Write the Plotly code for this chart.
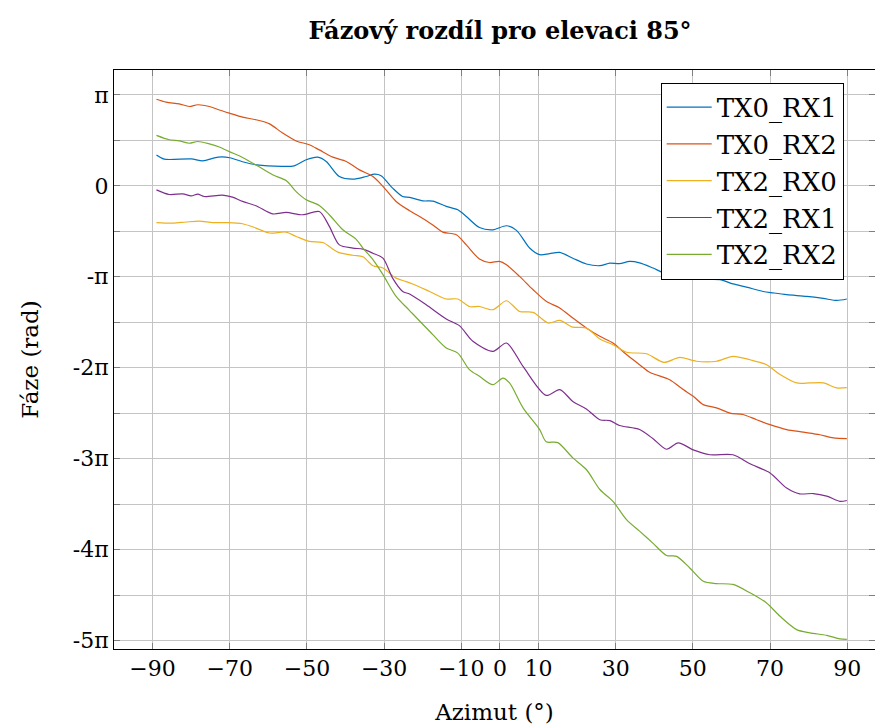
import math
import plotly.graph_objects as go

PI = math.pi

# ---- data (phase in rad, azimuth in degrees) ----
az_tx0_rx1 = [-89, -87, -80, -77, -73, -70, -66.7, -63, -56.5, -53.3, -50.2, -47.2, -45, -41.6, -38.1, -34.7,
              -32.5, -30.8, -27.8, -25.2, -23.4, -20, -17.4, -13.9, -10.9, -8.7, -5.3, -1.8, 1.7, 4.3, 7.7, 10.3,
              12.9, 15.5, 18.9, 22.4, 25.9, 28.5, 31, 33.6, 36.2, 39.7, 43.2, 45.8, 48.4, 51.8, 53.5, 57, 60.4,
              63.9, 68.2, 70.8, 74.3, 79.5, 83.8, 87.3, 89.9]
ph_tx0_rx1 = [1.06, 0.92, 0.93, 0.86, 0.99, 0.97, 0.83, 0.72, 0.67, 0.69, 0.90, 0.99, 0.84, 0.32, 0.23, 0.32,
              0.40, 0.35, -0.08, -0.37, -0.40, -0.52, -0.53, -0.71, -0.83, -1.06, -1.44, -1.52, -1.38, -1.54,
              -2.15, -2.38, -2.34, -2.30, -2.50, -2.70, -2.76, -2.67, -2.69, -2.61, -2.66, -2.84, -3.04, -2.96,
              -3.07, -3.13, -3.22, -3.24, -3.39, -3.50, -3.65, -3.70, -3.76, -3.82, -3.89, -3.96, -3.91]

az_tx0_rx2 = [-89, -86.5, -83.1, -80.5, -78.3, -75.3, -72.7, -70.1, -66.7, -63.2, -59.7, -56.3, -52.8, -49.4,
              -46.8, -43.3, -39.8, -36.4, -32.9, -30.3, -26.9, -23.4, -20.8, -17.4, -14.8, -11.3, -8.7, -5.3,
              -2.7, -0.1, 1.7, 5.1, 8.6, 12, 15.5, 18.9, 22.4, 25.9, 29.3, 32.8, 36.2, 38.8, 44, 47.5, 50.1,
              52.7, 56.1, 59.6, 63, 66.5, 70, 74.3, 78.6, 82.9, 86.4, 89.9]
ph_tx0_rx2 = [2.99, 2.89, 2.83, 2.74, 2.80, 2.74, 2.62, 2.51, 2.37, 2.28, 2.14, 1.82, 1.55, 1.42, 1.24, 0.99,
              0.84, 0.55, 0.32, -0.02, -0.54, -0.86, -1.06, -1.35, -1.60, -1.69, -2.04, -2.53, -2.65, -2.61,
              -2.73, -3.13, -3.59, -3.99, -4.22, -4.57, -4.91, -5.20, -5.43, -5.83, -6.18, -6.44, -6.70, -7.04,
              -7.27, -7.56, -7.67, -7.85, -7.90, -8.08, -8.25, -8.42, -8.51, -8.60, -8.71, -8.73]

az_tx2_rx0 = [-89, -84.8, -81.3, -77.9, -74.4, -70.9, -66.7, -63.2, -59.7, -55.4, -52.8, -49.4, -45.9, -42,
              -38.1, -35.5, -32.9, -30.3, -26.9, -24.5, -22.6, -18.2, -13.9, -10.9, -7.9, -5.3, -1.8, 1.7, 5.1,
              8.6, 12.5, 15.5, 18.9, 22.4, 25.9, 29.3, 32.8, 38, 42.5, 46.6, 50.9, 56.1, 60.4, 64.8, 69.1, 72.6,
              76.9, 80.3, 83.8, 87.3, 89.9]
ph_tx2_rx0 = [-1.27, -1.29, -1.25, -1.22, -1.27, -1.27, -1.31, -1.46, -1.63, -1.60, -1.75, -1.92, -1.96, -2.29,
              -2.40, -2.45, -2.76, -2.84, -3.19, -3.30, -3.39, -3.65, -3.91, -3.91, -4.17, -4.17, -4.28, -3.97,
              -4.34, -4.37, -4.74, -4.65, -4.88, -4.91, -5.29, -5.49, -5.75, -5.80, -6.10, -5.93, -6.06, -6.06,
              -5.89, -6.01, -6.18, -6.52, -6.81, -6.81, -6.81, -6.98, -6.97]

az_tx2_rx1 = [-89, -85.7, -82.2, -80, -78.3, -76.6, -71.9, -69.3, -66.7, -63.2, -58.9, -55.4, -51.1, -46.8,
              -44.2, -41.6, -38.1, -35.5, -32.9, -30.3, -27.8, -25.2, -23.4, -19.1, -13.9, -10.5, -7, -1.8, 1.7,
              6, 12, 15.5, 18.9, 22.4, 25.9, 28.5, 31, 36.2, 39.7, 43.2, 46.2, 50.1, 54.4, 60.4, 64.8, 70, 74.3,
              77.7, 81.2, 84.7, 88.1, 89.9]
ph_tx2_rx1 = [-0.14, -0.30, -0.28, -0.35, -0.29, -0.37, -0.32, -0.39, -0.54, -0.69, -0.97, -0.92, -1.00, -0.89,
              -1.40, -2.04, -2.15, -2.19, -2.33, -2.50, -3.19, -3.65, -3.74, -4.11, -4.60, -4.83, -5.37, -5.72,
              -5.43, -6.24, -7.24, -7.04, -7.45, -7.71, -8.08, -8.11, -8.28, -8.42, -8.74, -9.10, -8.88, -9.12,
              -9.29, -9.29, -9.60, -9.92, -10.44, -10.64, -10.63, -10.72, -10.90, -10.87]

az_tx2_rx2 = [-89, -85.7, -83.1, -80.5, -78.3, -75.3, -72.7, -70.1, -66.7, -63.2, -58.9, -55.4, -52.8, -50.2,
              -46.8, -44.2, -40.7, -37.3, -35.5, -32.9, -30.3, -26.9, -23.4, -17.4, -13.9, -10.9, -7.9, -5.3,
              -1.8, 0.8, 2.5, 6, 10.3, 12, 15, 18.9, 22.4, 25.9, 29.3, 32.8, 36.2, 39.7, 43.2, 45.8, 49.2, 52.7,
              56.1, 60.4, 64.8, 69.1, 72.6, 76.9, 80.3, 84.7, 88.1, 89.9]
ph_tx2_rx2 = [1.74, 1.59, 1.55, 1.47, 1.53, 1.45, 1.34, 1.18, 0.98, 0.72, 0.38, 0.18, -0.20, -0.48, -0.68,
              -1.00, -1.52, -1.84, -2.15, -2.55, -3.07, -3.82, -4.31, -5.14, -5.60, -5.78, -6.35, -6.58, -6.87,
              -6.64, -6.81, -7.67, -8.42, -8.84, -8.87, -9.40, -9.80, -10.49, -10.90, -11.53, -11.93, -12.35,
              -12.77, -12.80, -13.20, -13.66, -13.74, -13.77, -14.06, -14.41, -14.87, -15.33, -15.44, -15.53,
              -15.65, -15.67]

series_names = ["TX0_RX1", "TX0_RX2", "TX2_RX0", "TX2_RX1", "TX2_RX2"]
series_az = [az_tx0_rx1, az_tx0_rx2, az_tx2_rx0, az_tx2_rx1, az_tx2_rx2]
series_ph = [ph_tx0_rx1, ph_tx0_rx2, ph_tx2_rx0, ph_tx2_rx1, ph_tx2_rx2]
colors = ["#0072BD", "#D95319", "#EDB120", "#7E2F8E", "#77AC30"]

x_tick_vals = [-90, -70, -50, -30, -10, 0, 10, 30, 50, 70, 90]
x_tick_text = ["\u221290", "\u221270", "\u221250", "\u221230", "\u221210", "0", "10", "30", "50", "70", "90"]
y_tick_mult = [1, 0.5, 0, -0.5, -1, -1.5, -2, -2.5, -3, -3.5, -4, -4.5, -5]
y_tick_text = ["\u03c0", "", "0", "", "-\u03c0", "", "-2\u03c0", "", "-3\u03c0", "", "-4\u03c0", "", "-5\u03c0"]

FONT = "DejaVu Serif"

fig = go.Figure()
for name, xs, ys, c in zip(series_names, series_az, series_ph, colors):
    fig.add_trace(go.Scatter(x=xs, y=ys, mode="lines", name=name,
                             line=dict(color=c, width=1.2, shape="spline", smoothing=0.8)))

axis_common = dict(showline=True, linecolor="black", linewidth=1, mirror="allticks",
                   ticks="inside", ticklen=6, tickcolor="#7f7f7f", showgrid=True,
                   gridcolor="#c4c4c4", gridwidth=1, zeroline=False,
                   tickfont=dict(family=FONT, size=22, color="black"))

fig.update_layout(
    width=875, height=727,
    margin=dict(l=114, r=0, t=70, b=78),
    paper_bgcolor="white", plot_bgcolor="white",
    title=dict(text="<b>Fázový rozdíl pro elevaci 85°</b>", x=500 / 875, xref="container",
               xanchor="center", y=1 - 31 / 727, yref="container", yanchor="middle",
               font=dict(family=FONT, size=24, color="black")),
    xaxis=dict(range=[-100, 97.2], tickmode="array", tickvals=x_tick_vals, ticktext=x_tick_text,
               title=dict(text="Azimut (°)", font=dict(family=FONT, size=23, color="black"), standoff=23),
               **axis_common),
    yaxis=dict(range=[-16, 4], tickmode="array", tickvals=[m * PI for m in y_tick_mult],
               ticktext=y_tick_text,
               title=dict(text="Fáze (rad)", font=dict(family=FONT, size=23, color="black"), standoff=27),
               **axis_common),
    legend=dict(x=(660.7 - 114) / 761, y=(649 - 82.7) / 579, xanchor="left", yanchor="top",
                bordercolor="black", borderwidth=1, bgcolor="white",
                font=dict(family=FONT, size=26, color="black"), itemwidth=45,
                tracegroupgap=0),
    showlegend=True,
)

fig.write_html("out.html")
